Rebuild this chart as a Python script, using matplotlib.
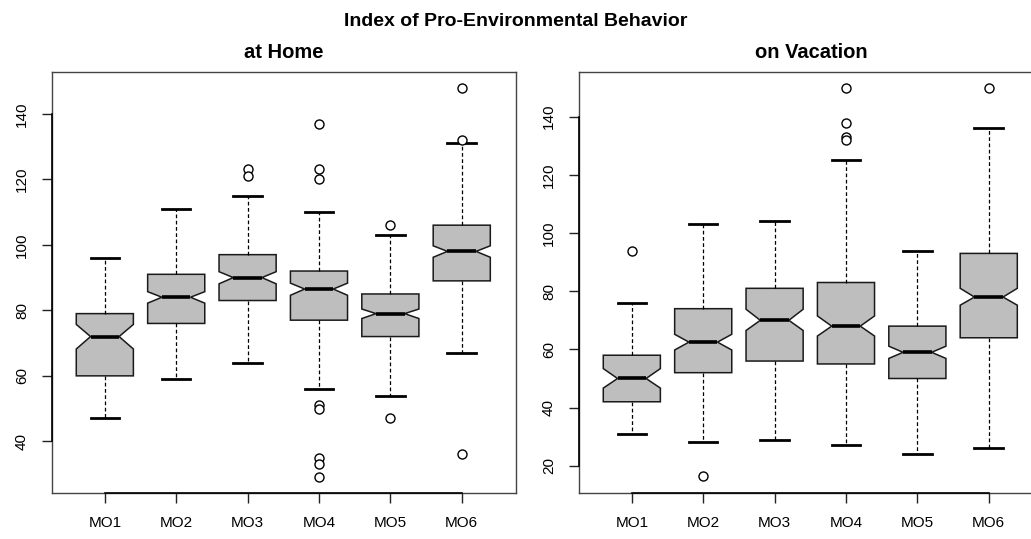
import numpy as np
import matplotlib
matplotlib.use("Agg")
import matplotlib.pyplot as plt

#%% Data (notched boxplots, R style)

labels = ["MO1", "MO2", "MO3", "MO4", "MO5", "MO6"]

# at Home
home_whislo = [47, 59, 64, 56, 54, 67]
home_q1 = [60, 76, 83, 77, 72, 89]
home_med = [72, 84, 90, 86.5, 79, 98]
home_q3 = [79, 91, 97, 92, 85, 106]
home_whishi = [96, 111, 115, 110, 103, 131]
home_cilo = [68.2, 82.2, 88.1, 84.6, 77.5, 96.2]
home_cihi = [75.7, 85.7, 91.8, 88.3, 80.4, 99.7]
home_fliers = [[], [], [123, 121], [137, 123, 120, 51, 50, 35, 33, 29],
               [106, 47], [148, 132, 36]]

# on Vacation
vac_whislo = [31, 28, 29, 27, 24, 26]
vac_q1 = [42, 52, 56, 55, 50, 64]
vac_med = [50, 62.5, 70, 68, 59, 78]
vac_q3 = [58, 74, 81, 83, 68, 93]
vac_whishi = [76, 103, 104, 125, 94, 136]
vac_cilo = [46.7, 59.8, 66.5, 64.6, 56.9, 75.2]
vac_cihi = [53.4, 65.2, 73.8, 71.5, 61.1, 81.0]
vac_fliers = [[94], [16.5], [], [150, 138, 133, 132], [], [150]]

plt.rcParams['font.family'] = ['Liberation Sans', 'DejaVu Sans']

#%% Helpers

def make_stats(whislo, q1, med, q3, whishi, cilo, cihi, fliers):
    stats = []
    for i in range(len(med)):
        stats.append(dict(whislo=whislo[i], q1=q1[i], med=med[i], q3=q3[i],
                          whishi=whishi[i], cilo=cilo[i], cihi=cihi[i],
                          fliers=np.array(fliers[i], dtype=float)))
    return stats


def draw_panel(ax, stats, ylim, yticks):
    ax.bxp(stats, positions=np.arange(1, len(stats) + 1), widths=0.8,
           shownotches=True, patch_artist=True,
           boxprops=dict(facecolor="#BEBEBE", edgecolor="#1a1a1a", linewidth=1.1),
           medianprops=dict(color="black", linewidth=2.6, solid_capstyle="butt"),
           whiskerprops=dict(color="black", linewidth=0.9, linestyle=(0, (3, 2))),
           capprops=dict(color="black", linewidth=2.0),
           flierprops=dict(marker="o", markerfacecolor="white", markeredgecolor="black",
                           markersize=6.5, markeredgewidth=1.0, linestyle="none"))
    ax.set_xlim(0.26, 6.76)
    ax.set_ylim(*ylim)
    ax.set_xticks(np.arange(1, len(labels) + 1))
    ax.set_xticklabels(labels)
    ax.set_yticks(yticks)
    for t in ax.get_yticklabels():
        t.set_rotation(90)
        t.set_va("center")
    ax.tick_params(axis="both", direction="out", length=7.5, width=1.0,
                   labelsize=11, pad=9, color="#222222", labelcolor="black")
    for sp in ax.spines.values():
        sp.set_linewidth(1.0)
        sp.set_color("#444444")
    # R axis lines run between first and last tick only
    ax.plot([1, len(labels)], [ylim[0], ylim[0]], color="black", lw=1.2,
            clip_on=False, zorder=5)
    ax.plot([ax.get_xlim()[0]] * 2, [yticks[0], yticks[-1]], color="black", lw=1.2,
            clip_on=False, zorder=5)
    return ax


#%% Figure

fig = plt.figure(figsize=(10.31, 5.39), dpi=100)
W, H = 1031.0, 539.0

ax1 = fig.add_axes([52 / W, 46 / H, 464 / W, 421 / H])
ax2 = fig.add_axes([579 / W, 46 / H, 464 / W, 421 / H])

draw_panel(ax1, make_stats(home_whislo, home_q1, home_med, home_q3, home_whishi,
                           home_cilo, home_cihi, home_fliers),
           (24.24, 152.76), [40, 60, 80, 100, 120, 140])
draw_panel(ax2, make_stats(vac_whislo, vac_q1, vac_med, vac_q3, vac_whishi,
                           vac_cilo, vac_cihi, vac_fliers),
           (10.64, 155.36), [20, 40, 60, 80, 100, 120, 140])

fig.text(284 / W, 1 - 58 / H, "at Home", ha="center", va="baseline",
         fontsize=14.5, fontweight="bold")
fig.text(811 / W, 1 - 58 / H, "on Vacation", ha="center", va="baseline",
         fontsize=14.5, fontweight="bold")
fig.text(516 / W, 1 - 26 / H, "Index of Pro-Environmental Behavior", ha="center",
         va="baseline", fontsize=14, fontweight="bold")

fig.savefig("out.png", dpi=100)
